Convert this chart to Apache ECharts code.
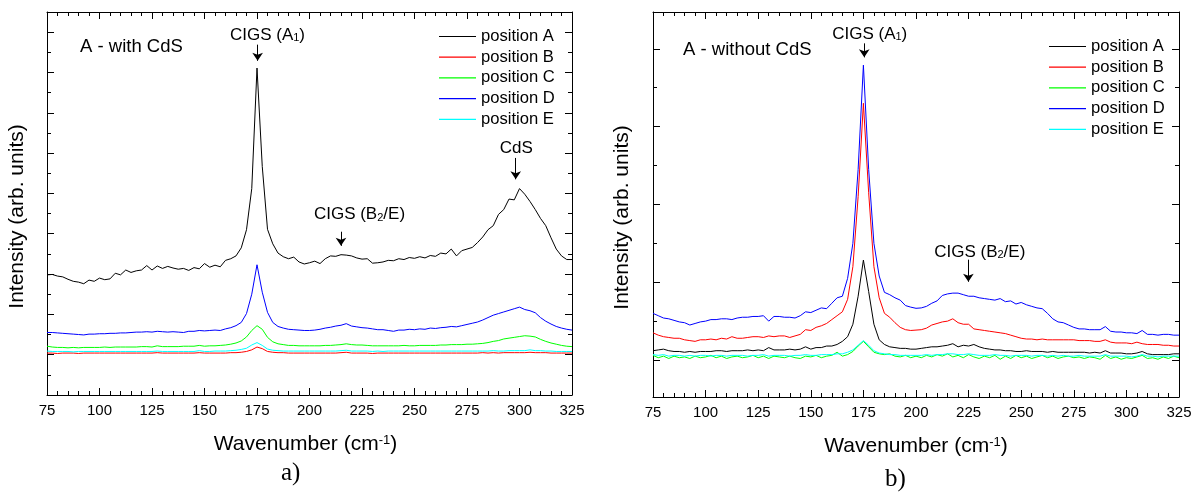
<!DOCTYPE html>
<html>
<head>
<meta charset="utf-8">
<script src="https://cdn.jsdelivr.net/npm/echarts@6/dist/echarts.min.js"></script>
<style>
  html, body { margin: 0; padding: 0; background: #fff; }
  #chart { width: 1204px; height: 495px; }
</style>
</head>
<body>
<div id="chart"></div>
<script>
// Raman spectra, sample A, measured at five positions (arbitrary intensity units).
const wavenumbers = [
  75, 77.5, 80, 82.5, 85, 87.5, 90, 92.5, 95, 97.5,
  100, 102.5, 105, 107.5, 110, 112.5, 115, 117.5, 120, 122.5,
  125, 127.5, 130, 132.5, 135, 137.5, 140, 142.5, 145, 147.5,
  150, 152.5, 155, 157.5, 160, 162.5, 165, 167.5, 170, 172.5,
  175, 177.5, 180, 182.5, 185, 187.5, 190, 192.5, 195, 197.5,
  200, 202.5, 205, 207.5, 210, 212.5, 215, 217.5, 220, 222.5,
  225, 227.5, 230, 232.5, 235, 237.5, 240, 242.5, 245, 247.5,
  250, 252.5, 255, 257.5, 260, 262.5, 265, 267.5, 270, 272.5,
  275, 277.5, 280, 282.5, 285, 287.5, 290, 292.5, 295, 297.5,
  300, 302.5, 305, 307.5, 310, 312.5, 315, 317.5, 320, 322.5,
  325
];

// ---- a) with CdS ----
const withCdS_A = [
  2.98, 2.99, 2.95, 2.93, 2.87, 2.82, 2.80, 2.76, 2.85, 2.82,
  2.90, 2.86, 2.88, 3.02, 2.98, 3.10, 3.04, 3.08, 3.10, 3.21,
  3.10, 3.20, 3.14, 3.19, 3.15, 3.12, 3.14, 3.09, 3.16, 3.13,
  3.26, 3.17, 3.22, 3.18, 3.34, 3.38, 3.45, 3.65, 4.10, 5.12,
  8.11, 5.67, 4.11, 3.75, 3.52, 3.43, 3.38, 3.42, 3.30, 3.25,
  3.28, 3.32, 3.26, 3.38, 3.45, 3.44, 3.48, 3.47, 3.45, 3.40,
  3.37, 3.38, 3.27, 3.28, 3.30, 3.34, 3.33, 3.38, 3.36, 3.41,
  3.39, 3.43, 3.40, 3.46, 3.44, 3.52, 3.50, 3.62, 3.45, 3.58,
  3.62, 3.66, 3.78, 3.92, 4.10, 4.20, 4.48, 4.60, 4.86, 4.84,
  5.12, 4.98, 4.80, 4.60, 4.38, 4.20, 3.90, 3.62, 3.45, 3.36,
  3.36
];
const withCdS_B = [
  1.04, 1.04, 1.03, 1.04, 1.04, 1.04, 1.03, 1.04, 1.04, 1.04,
  1.04, 1.04, 1.04, 1.04, 1.04, 1.04, 1.04, 1.04, 1.04, 1.04,
  1.04, 1.05, 1.04, 1.04, 1.04, 1.04, 1.04, 1.04, 1.04, 1.05,
  1.04, 1.04, 1.04, 1.04, 1.04, 1.05, 1.05, 1.06, 1.08, 1.12,
  1.19, 1.15, 1.08, 1.06, 1.05, 1.05, 1.04, 1.04, 1.04, 1.04,
  1.04, 1.04, 1.04, 1.04, 1.04, 1.04, 1.05, 1.06, 1.04, 1.04,
  1.04, 1.04, 1.03, 1.04, 1.04, 1.04, 1.04, 1.04, 1.04, 1.04,
  1.04, 1.04, 1.04, 1.04, 1.04, 1.04, 1.04, 1.04, 1.04, 1.04,
  1.04, 1.04, 1.04, 1.05, 1.04, 1.05, 1.04, 1.05, 1.05, 1.05,
  1.05, 1.05, 1.06, 1.05, 1.05, 1.05, 1.04, 1.04, 1.04, 1.04,
  1.04
];
const withCdS_C = [
  1.21, 1.19, 1.18, 1.18, 1.17, 1.18, 1.17, 1.18, 1.18, 1.18,
  1.18, 1.19, 1.18, 1.19, 1.19, 1.19, 1.19, 1.19, 1.20, 1.20,
  1.19, 1.22, 1.20, 1.20, 1.20, 1.20, 1.21, 1.21, 1.21, 1.23,
  1.21, 1.22, 1.22, 1.23, 1.24, 1.26, 1.29, 1.34, 1.44, 1.60,
  1.72, 1.63, 1.43, 1.32, 1.27, 1.25, 1.23, 1.23, 1.22, 1.22,
  1.22, 1.22, 1.22, 1.23, 1.23, 1.24, 1.25, 1.27, 1.25, 1.24,
  1.24, 1.23, 1.22, 1.22, 1.22, 1.22, 1.22, 1.22, 1.23, 1.22,
  1.22, 1.23, 1.23, 1.23, 1.23, 1.24, 1.24, 1.25, 1.25, 1.25,
  1.26, 1.26, 1.27, 1.28, 1.30, 1.33, 1.35, 1.39, 1.41, 1.43,
  1.45, 1.47, 1.46, 1.44, 1.38, 1.33, 1.29, 1.26, 1.23, 1.21,
  1.20
];
const withCdS_D = [
  1.55, 1.55, 1.54, 1.53, 1.52, 1.51, 1.50, 1.49, 1.51, 1.51,
  1.52, 1.52, 1.53, 1.53, 1.54, 1.54, 1.55, 1.56, 1.56, 1.57,
  1.56, 1.58, 1.57, 1.56, 1.57, 1.56, 1.55, 1.58, 1.58, 1.60,
  1.59, 1.60, 1.61, 1.60, 1.64, 1.67, 1.72, 1.80, 2.02, 2.50,
  3.23, 2.55, 2.05, 1.80, 1.70, 1.66, 1.63, 1.62, 1.61, 1.60,
  1.60, 1.61, 1.63, 1.66, 1.68, 1.71, 1.73, 1.77, 1.71, 1.69,
  1.67, 1.66, 1.64, 1.62, 1.62, 1.60, 1.58, 1.61, 1.61, 1.63,
  1.62, 1.64, 1.63, 1.66, 1.65, 1.67, 1.68, 1.70, 1.69, 1.72,
  1.75, 1.78, 1.81, 1.86, 1.92, 1.98, 2.02, 2.06, 2.10, 2.14,
  2.18, 2.12, 2.09, 2.04, 1.92, 1.83, 1.76, 1.70, 1.66, 1.63,
  1.61
];
const withCdS_E = [
  1.09, 1.08, 1.08, 1.08, 1.08, 1.07, 1.08, 1.08, 1.08, 1.08,
  1.08, 1.08, 1.08, 1.08, 1.08, 1.08, 1.08, 1.08, 1.08, 1.08,
  1.08, 1.09, 1.08, 1.08, 1.08, 1.08, 1.08, 1.08, 1.08, 1.10,
  1.08, 1.08, 1.09, 1.09, 1.09, 1.10, 1.11, 1.13, 1.16, 1.24,
  1.30, 1.23, 1.14, 1.11, 1.10, 1.09, 1.09, 1.09, 1.09, 1.09,
  1.09, 1.09, 1.09, 1.09, 1.09, 1.09, 1.10, 1.11, 1.09, 1.09,
  1.09, 1.09, 1.08, 1.09, 1.08, 1.09, 1.09, 1.09, 1.09, 1.09,
  1.09, 1.09, 1.09, 1.09, 1.09, 1.09, 1.09, 1.09, 1.09, 1.09,
  1.09, 1.09, 1.09, 1.09, 1.09, 1.10, 1.09, 1.09, 1.10, 1.10,
  1.10, 1.10, 1.12, 1.10, 1.10, 1.09, 1.09, 1.08, 1.08, 1.08,
  1.08
];

// ---- b) without CdS ----
const withoutCdS_A = [
  0.12, 0.13, 0.14, 0.12, 0.11, 0.11, 0.10, 0.11, 0.10, 0.11,
  0.11, 0.11, 0.12, 0.12, 0.11, 0.12, 0.12, 0.12, 0.13, 0.12,
  0.13, 0.12, 0.16, 0.13, 0.13, 0.13, 0.14, 0.13, 0.14, 0.17,
  0.14, 0.16, 0.16, 0.18, 0.18, 0.20, 0.24, 0.30, 0.46, 0.82,
  1.285, 0.88, 0.46, 0.26, 0.20, 0.17, 0.16, 0.15, 0.15, 0.14,
  0.14, 0.15, 0.16, 0.17, 0.17, 0.18, 0.19, 0.21, 0.17, 0.19,
  0.18, 0.20, 0.17, 0.15, 0.14, 0.13, 0.13, 0.12, 0.12, 0.11,
  0.11, 0.12, 0.11, 0.11, 0.11, 0.10, 0.11, 0.10, 0.10, 0.10,
  0.10, 0.10, 0.10, 0.09, 0.10, 0.09, 0.12, 0.09, 0.09, 0.09,
  0.08, 0.08, 0.09, 0.11, 0.08, 0.07, 0.07, 0.07, 0.07, 0.08,
  0.08
];
const withoutCdS_B = [
  0.35, 0.32, 0.30, 0.29, 0.28, 0.28, 0.26, 0.25, 0.24, 0.26,
  0.26, 0.27, 0.26, 0.28, 0.27, 0.30, 0.28, 0.28, 0.29, 0.30,
  0.30, 0.29, 0.31, 0.30, 0.31, 0.31, 0.29, 0.31, 0.33, 0.39,
  0.38, 0.42, 0.44, 0.47, 0.52, 0.57, 0.62, 0.78, 1.20, 2.10,
  3.30, 2.15, 1.20, 0.80, 0.60, 0.55, 0.48, 0.42, 0.39, 0.38,
  0.385, 0.39, 0.41, 0.45, 0.47, 0.49, 0.50, 0.53, 0.48, 0.46,
  0.46, 0.40, 0.39, 0.38, 0.37, 0.36, 0.35, 0.34, 0.32, 0.30,
  0.28, 0.27, 0.27, 0.26, 0.27, 0.26, 0.26, 0.26, 0.26, 0.26,
  0.26, 0.25, 0.25, 0.25, 0.24, 0.24, 0.26, 0.23, 0.22, 0.22,
  0.22, 0.21, 0.23, 0.21, 0.20, 0.20, 0.20, 0.19, 0.19, 0.18,
  0.18
];
const withoutCdS_C = [
  0.06, 0.03, 0.05, 0.02, 0.05, 0.03, 0.04, 0.02, 0.05, 0.03,
  0.04, 0.06, 0.03, 0.05, 0.02, 0.04, 0.05, 0.03, 0.04, 0.06,
  0.03, 0.05, 0.02, 0.05, 0.04, 0.03, 0.05, 0.03, 0.02, 0.05,
  0.04, 0.06, 0.03, 0.05, 0.06, 0.10, 0.05, 0.07, 0.11, 0.18,
  0.24, 0.17, 0.10, 0.08, 0.07, 0.08, 0.05, 0.04, 0.06, 0.03,
  0.05, 0.03, 0.06, 0.04, 0.07, 0.05, 0.08, 0.04, 0.06, 0.03,
  0.07, 0.04, 0.02, 0.05, 0.03, 0.06, 0.01, 0.05, 0.02, 0.06,
  0.03, 0.05, 0.02, 0.04, 0.06, 0.03, 0.05, 0.02, 0.04, 0.05,
  0.03, 0.04, 0.02, 0.04, 0.03, 0.01, 0.06, 0.02, 0.04, 0.01,
  0.03, 0.02, 0.04, 0.06, 0.02, 0.03, 0.01, 0.04, 0.02, 0.05,
  0.03
];
const withoutCdS_D = [
  0.60, 0.57, 0.54, 0.53, 0.51, 0.49, 0.48, 0.45, 0.47, 0.49,
  0.50, 0.52, 0.52, 0.53, 0.53, 0.52, 0.54, 0.55, 0.55, 0.56,
  0.56, 0.57, 0.50, 0.56, 0.56, 0.55, 0.55, 0.54, 0.57, 0.62,
  0.61, 0.64, 0.67, 0.66, 0.73, 0.80, 0.82, 1.05, 1.50, 2.45,
  3.79, 2.45, 1.50, 1.08, 0.87, 0.84, 0.80, 0.77, 0.70, 0.68,
  0.665, 0.67, 0.69, 0.73, 0.76, 0.83, 0.85, 0.86, 0.86, 0.84,
  0.82, 0.82, 0.80, 0.79, 0.78, 0.77, 0.79, 0.75, 0.76, 0.72,
  0.74, 0.71, 0.69, 0.67, 0.66, 0.60, 0.53, 0.49, 0.48, 0.45,
  0.42, 0.40, 0.40, 0.39, 0.39, 0.39, 0.43, 0.37, 0.36, 0.36,
  0.35, 0.35, 0.34, 0.38, 0.33, 0.33, 0.32, 0.33, 0.33, 0.32,
  0.32
];
const withoutCdS_E = [
  0.07, 0.06, 0.07, 0.05, 0.06, 0.06, 0.05, 0.06, 0.05, 0.06,
  0.06, 0.05, 0.06, 0.06, 0.05, 0.06, 0.06, 0.06, 0.05, 0.06,
  0.06, 0.07, 0.05, 0.06, 0.06, 0.06, 0.05, 0.06, 0.06, 0.07,
  0.06, 0.06, 0.07, 0.07, 0.07, 0.08, 0.08, 0.10, 0.13, 0.19,
  0.25, 0.19, 0.12, 0.09, 0.08, 0.07, 0.07, 0.06, 0.06, 0.06,
  0.06, 0.06, 0.07, 0.06, 0.07, 0.07, 0.08, 0.08, 0.07, 0.07,
  0.08, 0.07, 0.06, 0.06, 0.06, 0.07, 0.06, 0.06, 0.05, 0.06,
  0.06, 0.06, 0.05, 0.06, 0.06, 0.05, 0.06, 0.05, 0.06, 0.05,
  0.05, 0.06, 0.05, 0.05, 0.05, 0.05, 0.07, 0.05, 0.05, 0.05,
  0.05, 0.04, 0.05, 0.07, 0.05, 0.05, 0.04, 0.05, 0.05, 0.05,
  0.05
];

const positionNames = ['position A', 'position B', 'position C', 'position D', 'position E'];
const positionColors = ['#000000', '#ff0000', '#00ff00', '#0000ff', '#00ffff'];
const seriesWithCdS = [withCdS_A, withCdS_B, withCdS_C, withCdS_D, withCdS_E];
const seriesWithoutCdS = [withoutCdS_A, withoutCdS_B, withoutCdS_C, withoutCdS_D, withoutCdS_E];

// Peak assignments: label anchor [wavenumber, intensity] and arrow [wavenumber, from, to]
const peaksWithCdS = [
  { label: 'CIGS (A{sub|1})', at: [180, 8.93], arrow: [175.3, 8.69, 8.29] },
  { label: 'CIGS (B{sub|2}/E)', at: [223.8, 4.47], arrow: [215, 4.05, 3.70] },
  { label: 'CdS', at: [298.5, 6.11], arrow: [298.2, 5.88, 5.35] }
];
const peaksWithoutCdS = [
  { label: 'CIGS (A{sub|1})', at: [178, 4.19], arrow: [175.4, 4.07, 3.89] },
  { label: 'CIGS (B{sub|2}/E)', at: [230.3, 1.39], arrow: [224.9, 1.29, 1.006] }
];

// Intensity axes: tick positions in arbitrary units
const yWith = { min: 0, max: 9.5, major: [1, 2, 3, 4, 5, 6, 7, 8, 9], minor: [0.5, 1.5, 2.5, 3.5, 4.5, 5.5, 6.5, 7.5, 8.5] };
const yWithout = { min: -0.475, max: 4.473, major: [0, 1, 2, 3, 4], minor: [0.5, 1.5, 2.5, 3.5] };
const xRange = { min: 75, max: 325, step: 25, minorSplit: 5 };

const FONT = '"Liberation Sans", Arial, sans-serif';
const SERIF = '"Liberation Serif", "Times New Roman", serif';
const black = '#000000';
// Legend key: a plain horizontal stroke
const LEGEND_LINE = 'path://M0,0 L37,0 L37,1.2 L0,1.2 Z';

const chart = echarts.init(document.getElementById('chart'), null, { renderer: 'canvas' });

function xAxes(gridIndex, namePad) {
  const common = {
    type: 'value', gridIndex, min: xRange.min, max: xRange.max, interval: xRange.step,
    splitLine: { show: false },
    axisLine: { show: true, onZero: false, lineStyle: { color: black, width: 1 } },
    axisTick: { show: true, inside: true, length: 7, lineStyle: { color: black, width: 1 } },
    minorTick: { show: true, splitNumber: xRange.minorSplit, length: 4, lineStyle: { color: black, width: 1 } }
  };
  return [
    Object.assign({}, common, {
      position: 'bottom',
      axisLabel: { show: true, fontFamily: FONT, fontSize: 15, color: black, margin: 8 },
      name: 'Wavenumber (cm{sup|-1})',
      nameLocation: 'middle',
      nameGap: 39,
      nameTextStyle: {
        fontFamily: FONT, fontSize: 21, color: black, padding: namePad,
        rich: { sup: { fontFamily: FONT, fontSize: 13, color: black, verticalAlign: 'top' } }
      }
    }),
    Object.assign({}, common, { position: 'top', axisLabel: { show: false } })
  ];
}

function yAxes(gridIndex, spec, nameGap) {
  const base = {
    type: 'value', gridIndex, min: spec.min, max: spec.max,
    splitLine: { show: false }, axisLabel: { show: false }
  };
  const line = (show) => ({ show, onZero: false, lineStyle: { color: black, width: 1 } });
  const tick = (vals, len) => ({ show: true, inside: true, length: len, customValues: vals, lineStyle: { color: black, width: 1 } });
  return [
    Object.assign({}, base, {
      position: 'left',
      axisLine: line(true),
      axisTick: tick(spec.major, 7),
      name: 'Intensity (arb. units)',
      nameLocation: 'middle',
      nameGap: nameGap,
      nameTextStyle: { fontFamily: FONT, fontSize: 21, color: black, padding: [0, 26, 0, 0] }
    }),
    Object.assign({}, base, { position: 'left', axisLine: line(false), axisTick: tick(spec.minor, 4) }),
    Object.assign({}, base, { position: 'right', axisLine: line(true), axisTick: tick(spec.major, 7) }),
    Object.assign({}, base, { position: 'right', axisLine: line(false), axisTick: tick(spec.minor, 4) })
  ];
}

function spectrumSeries(values, idx, xAxisIndex, yAxisIndex) {
  return {
    type: 'line', name: positionNames[idx],
    xAxisIndex, yAxisIndex,
    data: wavenumbers.map((w, i) => [w, values[i]]),
    symbol: 'none', showSymbol: false,
    lineStyle: { color: positionColors[idx], width: 1 },
    itemStyle: { color: positionColors[idx] },
    silent: true, z: 2
  };
}

function peakSeries(peaks, xAxisIndex, yAxisIndex) {
  return {
    type: 'scatter', name: 'peak assignments',
    xAxisIndex, yAxisIndex, z: 5, silent: true,
    symbolSize: 0,
    itemStyle: { color: black, opacity: 1 },
    data: peaks.map(p => ({ value: p.at, label: { formatter: p.label } })),
    label: {
      show: true, position: 'inside', color: black, fontFamily: FONT, fontSize: 17,
      textBorderWidth: 0, textBorderColor: 'transparent',
      rich: { sub: { fontFamily: FONT, fontSize: 11, color: black, verticalAlign: 'bottom', textBorderWidth: 0 } }
    },
    markLine: {
      silent: true, animation: false,
      symbol: ['none', 'arrow'], symbolSize: 8,
      lineStyle: { color: black, width: 1, type: 'solid', opacity: 1 },
      itemStyle: { color: black, opacity: 1 },
      label: { show: false },
      emphasis: { disabled: true },
      data: peaks.map(p => [{ coord: [p.arrow[0], p.arrow[1]] }, { coord: [p.arrow[0], p.arrow[2]] }])
    }
  };
}

const legendCommon = {
  data: positionNames.map((n, i) => ({ name: n, icon: LEGEND_LINE, itemStyle: { color: positionColors[i] } })),
  orient: 'vertical', padding: 0,
  itemWidth: 37, itemHeight: 14, itemGap: 3.7,
  textStyle: { fontFamily: FONT, fontSize: 16.6, color: black },
  selectedMode: false
};

const option = {
  animation: false,
  backgroundColor: '#ffffff',
  grid: [
    { left: 47, top: 12, width: 525, height: 383, outerBoundsMode: 'none', containLabel: false },
    { left: 653, top: 12, width: 526, height: 385, outerBoundsMode: 'none', containLabel: false }
  ],
  title: [
    { text: 'A - with CdS', left: 80, top: 37, padding: 0, textStyle: { fontFamily: FONT, fontSize: 18.5, fontWeight: 'normal', color: black } },
    { text: 'A - without CdS', left: 683, top: 40, padding: 0, textStyle: { fontFamily: FONT, fontSize: 18.5, fontWeight: 'normal', color: black } },
    { text: 'a)', left: 281, top: 461, padding: 0, textStyle: { fontFamily: SERIF, fontSize: 25, fontWeight: 'normal', color: black } },
    { text: 'b)', left: 885, top: 467, padding: 0, textStyle: { fontFamily: SERIF, fontSize: 25, fontWeight: 'normal', color: black } }
  ],
  legend: [
    Object.assign({}, legendCommon, { left: 439, top: 28 }),
    Object.assign({}, legendCommon, { left: 1049, top: 38 })
  ],
  xAxis: [].concat(xAxes(0, [0, 8, 0, 0]), xAxes(1, 0)),
  yAxis: [].concat(yAxes(0, yWith, 19), yAxes(1, yWithout, 20)),
  series: [].concat(
    seriesWithCdS.map((v, i) => spectrumSeries(v, i, 0, 0)),
    [peakSeries(peaksWithCdS, 0, 0)],
    seriesWithoutCdS.map((v, i) => spectrumSeries(v, i, 2, 4)),
    [peakSeries(peaksWithoutCdS, 2, 4)]
  )
};

chart.setOption(option);
</script>
</body>
</html>
